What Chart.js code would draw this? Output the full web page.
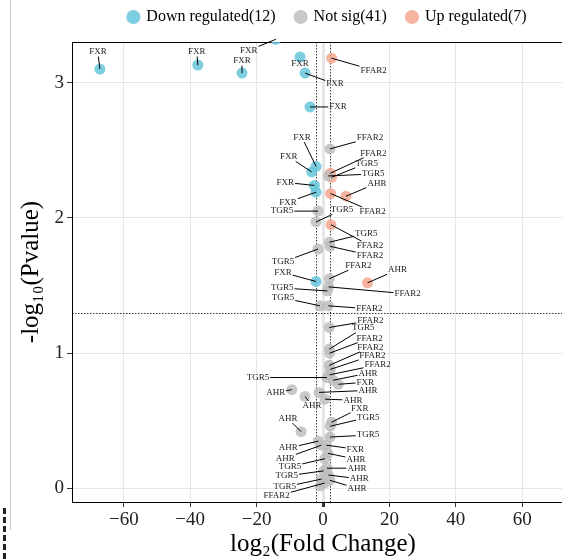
<!DOCTYPE html>
<html>
<head>
<meta charset="utf-8">
<title>Volcano plot</title>
<script src="https://cdn.jsdelivr.net/npm/chart.js"></script>
<style>
  html, body { margin: 0; background: #fff; overflow: hidden; }
  #wrap { position: relative; width: 562px; height: 559px; overflow: hidden; }
  #edge { position: absolute; left: 10px; top: 0; width: 1px; height: 530px; background: #c8c8c8; }
  #cut { position: absolute; left: 3px; top: 508px; height: 51px; border-left: 3px dashed #222; }
  canvas { position: absolute; left: 0; top: 0; }
</style>
</head>
<body>
<!-- the figure is wider than the window; it is cropped on the right like the original screenshot -->
<div id="wrap">
  <div id="edge"></div>
  <div id="cut"></div>
  <canvas id="volcano" width="655" height="559"></canvas>
</div>

<script>
// data
const groupNames = ['Down regulated(12)', 'Not sig(41)', 'Up regulated(7)'];

const downFC   = [-67.2, -37.7, -24.4, -14.2, -6.9, -5.4, -3.9, -2.1, -3.4, -2.6, -2.1, -2.1];
const downLogP = [3.10, 3.13, 3.07, 3.32, 3.19, 3.07, 2.82, 2.38, 2.34, 2.24, 2.19, 1.53];
const downGene = ['FXR', 'FXR', 'FXR', 'FXR', 'FXR', 'FXR', 'FXR', 'FXR', 'FXR', 'FXR', 'FXR', 'FXR'];

const nsFC   = [2.1, 1.6, -1.5, -2.1, 1.9, 2.1, -1.5, 1.9, 1.7, 1.3, -0.9, 1.6, 1.9, 1.9, 2.0, 1.9, 2.2, 2.0, 1.2, 3.0,
                4.6, -1.2, -9.4, -5.4, 0.6, 2.6, 2.2, 2.1, -6.6, -1.4, -0.5, 1.0, 1.5, 0.6, 1.2, 0.2, 1.6, -0.4, 0.5, 2.1, -0.8];
const nsLogP = [2.51, 2.31, 2.05, 1.97, 1.82, 1.79, 1.77, 1.55, 1.49, 1.46, 1.35, 1.35, 1.19, 1.03, 1.00, 0.91, 0.88, 0.84, 0.82, 0.80,
                0.77, 0.71, 0.73, 0.68, 0.66, 0.49, 0.46, 0.38, 0.42, 0.35, 0.32, 0.32, 0.26, 0.22, 0.15, 0.13, 0.10, 0.07, 0.04, 0.06, 0.02];
const nsGene = ['FFAR2', 'TGR5', 'TGR5', 'TGR5', 'TGR5', 'FFAR2', 'TGR5', 'FFAR2', 'FFAR2', 'TGR5', 'TGR5', 'FFAR2', 'FFAR2', 'TGR5',
                'FFAR2', 'FFAR2', 'FFAR2', 'FFAR2', 'TGR5', 'AHR', 'FXR', 'AHR', 'AHR', 'AHR', 'AHR', 'FXR', 'TGR5', 'TGR5', 'AHR',
                'AHR', 'AHR', 'FXR', 'AHR', 'TGR5', 'AHR', 'TGR5', 'AHR', 'TGR5', 'FFAR2', 'AHR', 'TGR5'];

const upFC   = [2.6, 2.2, 2.6, 2.3, 6.9, 2.4, 13.4];
const upLogP = [3.18, 2.33, 2.30, 2.18, 2.16, 1.95, 1.52];
const upGene = ['FFAR2', 'FFAR2', 'TGR5', 'FFAR2', 'AHR', 'FFAR2', 'AHR'];

const xTickValues = [-60, -40, -20, 0, 20, 40, 60];
const yTickValues = [0, 1, 2, 3];
const fcCut = 2;
const pCut = 1.3;

// repelled label placement (pixel nudges from each point), by group
const labelNudge = [
  [[-2, -17], [-1, -13], [0, -12], [-27, 11], [0, 7], [30, 11], [28, 0], [-14, -29], [-23, -15], [-29, -3], [-28, 10], [-33, -9]],
  [[40, -11], [45, -2], [-36, 0], [26, -12], [37, -9], [40, 9], [-35, 13], [29, -13], [79, 7], [-45, -3], [-37, -8], [41, 3],
   [41, -7], [34, -21], [40, -15], [41, -18], [42, -14], [48, -10], [-69, 0], [35, -7], [27, -2], [49, -2], [-16, 3], [7, 9],
   [28, 1], [28, -14], [38, -9], [38, -2], [-13, -13], [-30, 7], [-36, 13], [29, 4], [28, 6], [-35, 8], [30, 0], [-37, 5],
   [31, 4], [-37, 8], [-48, 13], [27, 8], null],
  [[42, 12], [43, -20], [35, -14], [42, 18], [31, -13], [39, 21], [30, -13]]
];

const pointColors = ['rgba(103,197,221,0.85)', 'rgba(190,190,190,0.85)', 'rgba(243,167,143,0.85)'];
const legendColors = ['#7ECEE2', '#C8C8C8', '#F5B4A0'];
const serif = 'Liberation Serif';

function makeSet(i, xs, ys, genes) {
  return {
    label: groupNames[i],
    data: xs.map((x, k) => ({ x: x, y: ys[k], gene: genes[k] })),
    pointRadius: 5.5,
    pointBackgroundColor: pointColors[i],
    backgroundColor: pointColors[i],
    pointBorderWidth: 0,
    borderWidth: 0,
    showLine: false,
    clip: 0
  };
}

const thresholdLines = {
  id: 'thresholdLines',
  beforeDatasetsDraw(chart) {
    const { ctx, chartArea: a, scales: { x, y } } = chart;
    ctx.save();
    ctx.strokeStyle = '#000';
    ctx.lineWidth = 0.8;
    ctx.setLineDash([1.5, 1.5]);
    [-fcCut, fcCut].forEach(v => {
      const px = Math.round(x.getPixelForValue(v)) + 0.5;
      ctx.beginPath(); ctx.moveTo(px, a.top); ctx.lineTo(px, a.bottom); ctx.stroke();
    });
    const py = Math.round(y.getPixelForValue(pCut)) + 0.5;
    ctx.beginPath(); ctx.moveTo(a.left, py); ctx.lineTo(a.right, py); ctx.stroke();
    ctx.restore();
  }
};

const geneLabels = {
  id: 'geneLabels',
  afterDatasetsDraw(chart) {
    const ctx = chart.ctx;
    ctx.save();
    ctx.font = '9px "' + serif + '"';
    ctx.textAlign = 'center';
    ctx.textBaseline = 'middle';
    chart.data.datasets.forEach((ds, i) => {
      const meta = chart.getDatasetMeta(i);
      meta.data.forEach((pt, k) => {
        const nudge = labelNudge[i][k];
        if (!nudge) return;
        const lx = pt.x + nudge[0], ly = pt.y + nudge[1];
        const text = ds.data[k].gene;
        const hw = ctx.measureText(text).width / 2 + 1, hh = 4.5;
        const dx = pt.x - lx, dy = pt.y - ly;
        const t = Math.min(dx ? hw / Math.abs(dx) : Infinity, dy ? hh / Math.abs(dy) : Infinity);
        if (t < 1 && Math.hypot(dx, dy) * (1 - t) > 4) {
          ctx.strokeStyle = '#000';
          ctx.lineWidth = 1;
          ctx.beginPath();
          ctx.moveTo(pt.x, pt.y);
          ctx.lineTo(lx + dx * t, ly + dy * t);
          ctx.stroke();
        }
        ctx.fillStyle = '#222';
        ctx.fillText(text, lx, ly);
      });
    });
    ctx.restore();
  }
};

const minus = v => (v < 0 ? '\u2212' + Math.abs(v) : String(v));

new Chart(document.getElementById('volcano'), {
  type: 'scatter',
  data: {
    datasets: [
      makeSet(0, downFC, downLogP, downGene),
      makeSet(1, nsFC, nsLogP, nsGene),
      makeSet(2, upFC, upLogP, upGene)
    ]
  },
  options: {
    responsive: false,
    animation: false,
    events: [],
    layout: { autoPadding: false, padding: { top: -11, left: 0, right: 0, bottom: 0 } },
    scales: {
      x: {
        type: 'linear',
        min: -75.6,
        max: 75.6,
        afterBuildTicks: s => { s.ticks = xTickValues.map(v => ({ value: v })); },
        afterFit: s => { s.height = 57; },
        grid: {
          color: '#e6e6e6',
          lineWidth: c => (c.tick && c.tick.value === 0 ? 3 : 1),
          tickColor: '#333',
          tickLength: 5
        },
        border: { color: '#000', width: 1 },
        ticks: { color: '#222', padding: 2, font: { family: serif, size: 19 }, callback: minus },
        title: {
          display: true,
          text: 'log\u2082(Fold Change)',
          color: '#000',
          font: { family: serif, size: 25 },
          padding: { top: 0, bottom: 0 }
        }
      },
      xTop: {
        type: 'linear',
        axis: 'x',
        position: 'top',
        min: -75.6,
        max: 75.6,
        afterFit: s => { s.height = 7; },
        grid: { display: false, drawTicks: false },
        ticks: { display: false },
        border: { display: true, color: '#000', width: 1 }
      },
      y: {
        min: -0.1,
        max: 3.3,
        afterBuildTicks: s => { s.ticks = yTickValues.map(v => ({ value: v })); },
        afterFit: s => { s.width = 72; },
        grid: { color: '#e6e6e6', tickColor: '#333', tickLength: 5 },
        border: { color: '#000', width: 1 },
        ticks: { color: '#222', padding: 3, font: { family: serif, size: 19 } },
        title: {
          display: true,
          text: '-log\u2081\u2080(Pvalue)',
          color: '#000',
          font: { family: serif, size: 25 },
          padding: { top: 16, bottom: 0 }
        }
      },
      // empty right margin of the original figure (falls outside the crop)
      yRight: {
        type: 'linear',
        axis: 'y',
        position: 'right',
        min: -0.1,
        max: 3.3,
        afterFit: s => { s.width = 81; },
        grid: { display: false, drawTicks: false },
        ticks: { display: false },
        border: { display: false }
      }
    },
    plugins: {
      legend: {
        position: 'top',
        labels: {
          usePointStyle: true,
          pointStyle: 'circle',
          boxWidth: 10,
          boxHeight: 10,
          padding: 20,
          color: '#000',
          font: { family: serif, size: 16 },
          generateLabels: chart => {
            const items = Chart.defaults.plugins.legend.labels.generateLabels(chart);
            items.forEach((it, i) => {
              it.fillStyle = legendColors[i];
              it.strokeStyle = legendColors[i];
              it.lineWidth = 0;
            });
            return items;
          }
        }
      },
      tooltip: { enabled: false }
    }
  },
  plugins: [thresholdLines, geneLabels]
});
</script>
</body>
</html>
